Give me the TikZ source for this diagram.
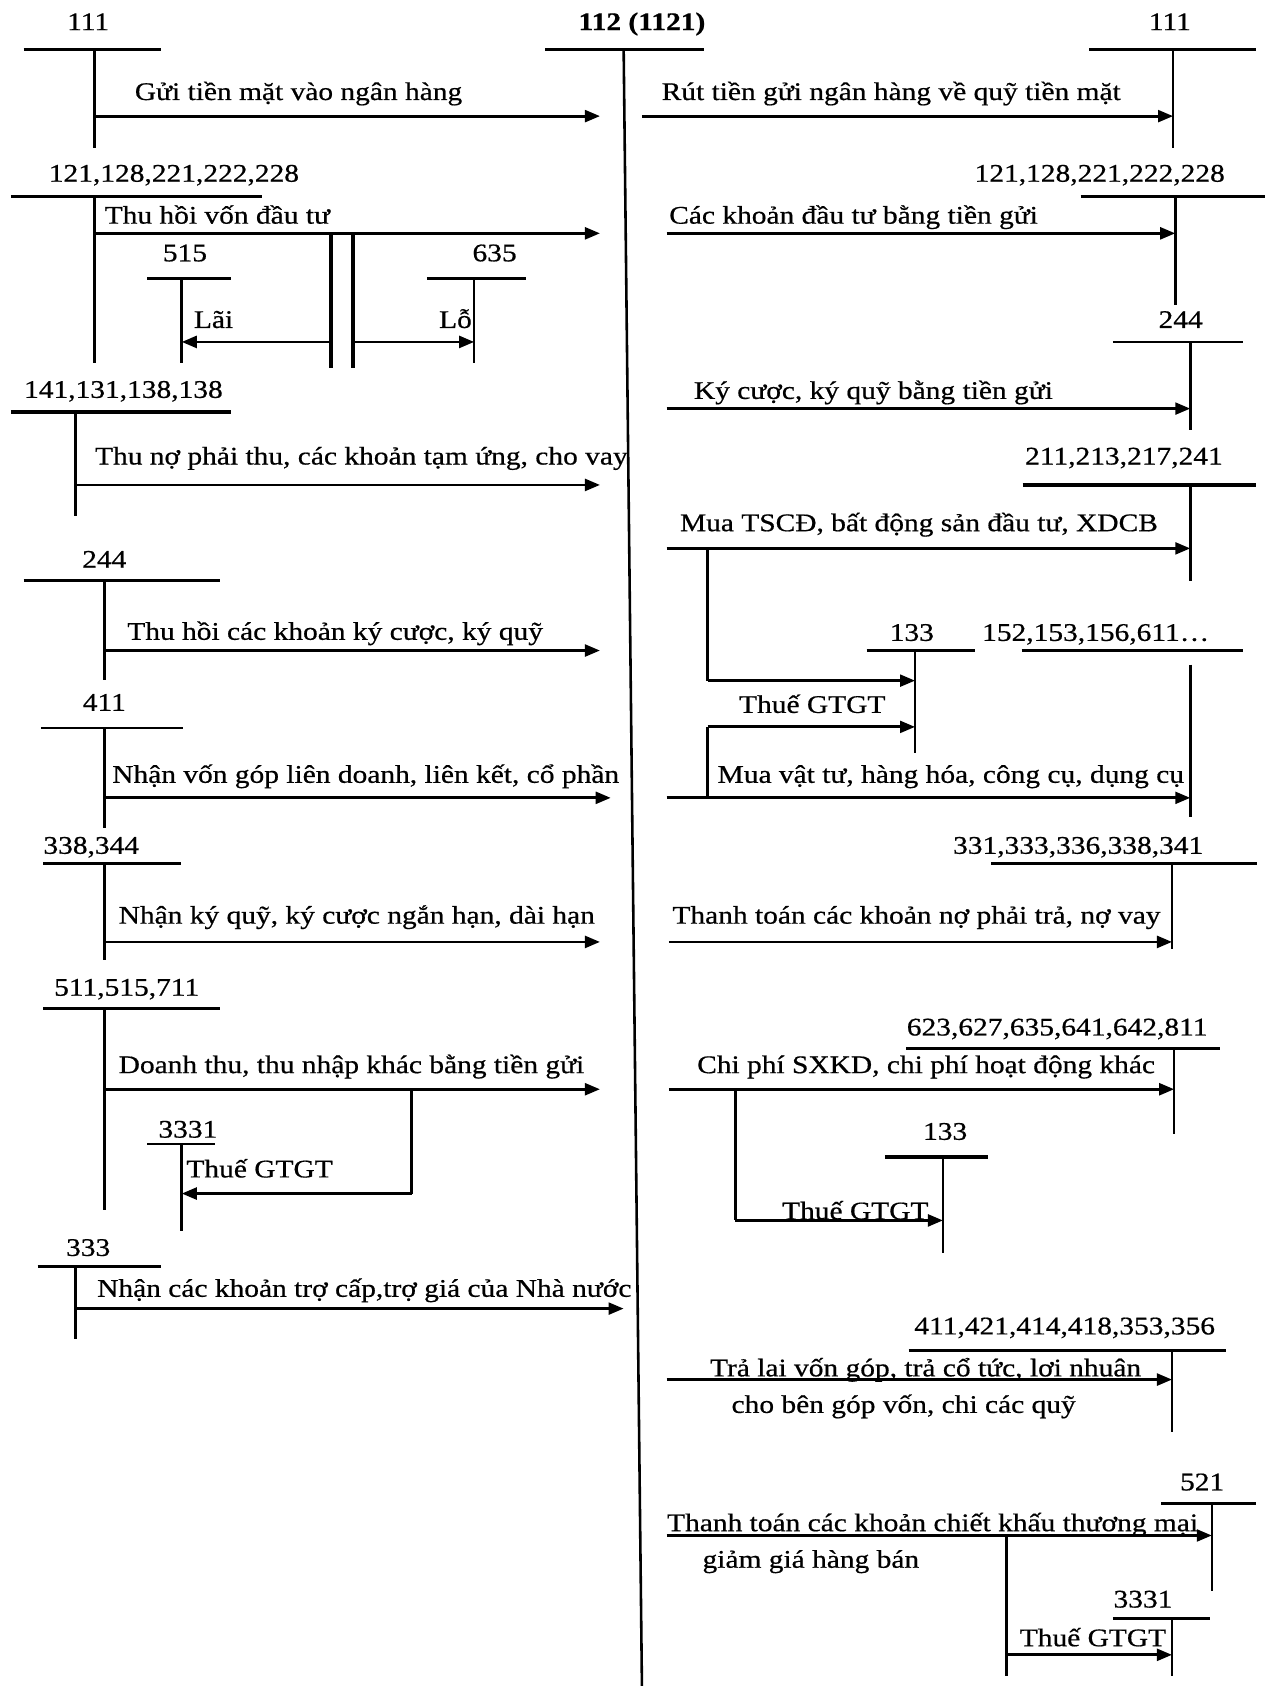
\documentclass[tikz,border=0pt]{standalone}
\usepackage{fontspec}
\setmainfont{Liberation Serif}[FakeStretch=1.16,FakeBold=0.6]
\usetikzlibrary{arrows.meta}
\begin{document}
\begin{tikzpicture}[x=0.5pt,y=-0.5pt,
  every node/.style={inner sep=0pt, font=\fontsize{11.8}{13}\selectfont},
  tline/.style={line width=1.6pt},
  vline/.style={line width=1.2pt},
  seg/.style={line width=1.3pt},
  arr/.style={line width=1.3pt,-{Triangle[length=7pt,width=5.5pt]}},
  txt/.style={anchor=base west},
  num/.style={anchor=base},
]
\useasboundingbox (0,0) rectangle (1181,1568);

% ===== main account 112 =====
\node[num,font=\fontsize{11.8}{13}\selectfont\bfseries] (Mlab) at (597,28) {112 (1121)};
\coordinate (Ml) at (507,46); \coordinate (Mr) at (655,46);
\coordinate (Mt) at (580,46); \coordinate (Mb) at (597,1568);
\draw[tline] (Ml) -- (Mr);
\draw[vline] (Mt) -- (Mb);

% ===== LEFT SIDE =====
% L1 111
\node[num] (L1lab) at (82,28) {111};
\coordinate (L1l) at (22,46); \coordinate (L1r) at (150,46);
\coordinate (L1t) at (88,46); \coordinate (L1b) at (88,138);
\draw[tline] (L1l) -- (L1r); \draw[vline] (L1t) -- (L1b);
\coordinate (L1s) at (88,108); \coordinate (L1e) at (558,108);
\draw[arr] (L1s) -- (L1e);
\node[txt] (L1txt) at (125,93) {Gửi tiền mặt vào ngân hàng};

% L2 121,...
\node[txt] (L2lab) at (45,169) {121,128,221,222,228};
\coordinate (L2l) at (10,183); \coordinate (L2r) at (244,183);
\coordinate (L2t) at (88,183); \coordinate (L2b) at (88,338);
\draw[tline] (L2l) -- (L2r); \draw[vline] (L2t) -- (L2b);
\coordinate (L2s) at (88,217); \coordinate (L2e) at (558,217);
\draw[arr] (L2s) -- (L2e);
\node[txt] (L2txt) at (97,208) {Thu hồi vốn đầu tư};
\coordinate (D1t) at (308,217); \coordinate (D1b) at (308,342);
\coordinate (D2t) at (328,217); \coordinate (D2b) at (328,342);
\draw[line width=1.7pt] (D1t) -- (D1b);
\draw[line width=1.7pt] (D2t) -- (D2b);
% 515
\node[num] (A515lab) at (172,243) {515};
\coordinate (A515l) at (137,259); \coordinate (A515r) at (215,259);
\coordinate (A515t) at (169,259); \coordinate (A515b) at (169,338);
\draw[vline] (A515l) -- (A515r); \draw[vline] (A515t) -- (A515b);
\coordinate (LaiS) at (308,318);
\draw[arr] (LaiS) -- (LaiS -| A515t);
\node[txt] (Lai) at (180,305) {Lãi};
% 635
\node[num] (A635lab) at (460,243) {635};
\coordinate (A635l) at (397,259); \coordinate (A635r) at (489,259);
\coordinate (A635t) at (441,259); \coordinate (A635b) at (441,338);
\draw[vline] (A635l) -- (A635r); \draw[vline] (A635t) -- (A635b);
\coordinate (LoS) at (328,318);
\draw[arr] (LoS) -- (LoS -| A635t);
\node[txt] (Lo) at (408,305) {Lỗ};

% L3 141,...
\node[txt] (L3lab) at (22,370) {141,131,138,138};
\coordinate (L3l) at (10,383); \coordinate (L3r) at (215,383);
\coordinate (L3t) at (70,383); \coordinate (L3b) at (70,480);
\draw[tline] (L3l) -- (L3r); \draw[vline] (L3t) -- (L3b);
\coordinate (L3s) at (70,451); \coordinate (L3e) at (558,451);
\draw[arr] (L3s) -- (L3e);
\node[txt] (L3txt) at (88,432) {Thu nợ phải thu, các khoản tạm ứng, cho vay};

% L4 244
\node[num] (L4lab) at (97,528) {244};
\coordinate (L4l) at (22,540); \coordinate (L4r) at (205,540);
\coordinate (L4t) at (97,540); \coordinate (L4b) at (97,632);
\draw[tline] (L4l) -- (L4r); \draw[vline] (L4t) -- (L4b);
\coordinate (L4s) at (97,605); \coordinate (L4e) at (558,605);
\draw[arr] (L4s) -- (L4e);
\node[txt] (L4txt) at (118,595) {Thu hồi các khoản ký cược, ký quỹ};

% L5 411
\node[num] (L5lab) at (97,661) {411};
\coordinate (L5l) at (38,677); \coordinate (L5r) at (170,677);
\coordinate (L5t) at (97,677); \coordinate (L5b) at (97,770);
\draw[vline] (L5l) -- (L5r); \draw[vline] (L5t) -- (L5b);
\coordinate (L5s) at (97,742); \coordinate (L5e) at (568,742);
\draw[arr] (L5s) -- (L5e);
\node[txt] (L5txt) at (104,728) {Nhận vốn góp liên doanh, liên kết, cổ phần};

% L6 338,344
\node[txt] (L6lab) at (40,794) {338,344};
\coordinate (L6l) at (40,803); \coordinate (L6r) at (168,803);
\coordinate (L6t) at (97,803); \coordinate (L6b) at (97,893);
\draw[vline] (L6l) -- (L6r); \draw[vline] (L6t) -- (L6b);
\coordinate (L6s) at (97,876); \coordinate (L6e) at (558,876);
\draw[arr] (L6s) -- (L6e);
\node[txt] (L6txt) at (110,859) {Nhận ký quỹ, ký cược ngắn hạn, dài hạn};

% L7 511,515,711
\node[txt] (L7lab) at (50,926) {511,515,711};
\coordinate (L7l) at (40,938); \coordinate (L7r) at (205,938);
\coordinate (L7t) at (97,938); \coordinate (L7b) at (97,1125);
\draw[tline] (L7l) -- (L7r); \draw[vline] (L7t) -- (L7b);
\coordinate (L7s) at (97,1013); \coordinate (L7e) at (558,1013);
\draw[arr] (L7s) -- (L7e);
\node[txt] (L7txt) at (110,998) {Doanh thu, thu nhập khác bằng tiền gửi};
% 3331
\node[txt] (A3331lab) at (147,1058) {3331};
\coordinate (A3331l) at (137,1064); \coordinate (A3331r) at (200,1064);
\coordinate (A3331t) at (169,1064); \coordinate (A3331b) at (169,1145);
\draw[vline] (A3331l) -- (A3331r); \draw[vline] (A3331t) -- (A3331b);
\coordinate (L7br) at (383,1013); \coordinate (L7bk) at (383,1110);
\draw[seg] (L7br) -- (L7bk);
\draw[arr] (L7bk) -- (L7bk -| A3331t);
\node[txt] (L7vat) at (173,1095) {Thuế GTGT};

% L8 333
\node[num] (L8lab) at (82,1168) {333};
\coordinate (L8l) at (35,1178); \coordinate (L8r) at (150,1178);
\coordinate (L8t) at (70,1178); \coordinate (L8b) at (70,1245);
\draw[tline] (L8l) -- (L8r); \draw[vline] (L8t) -- (L8b);
\coordinate (L8s) at (70,1217); \coordinate (L8e) at (580,1217);
\draw[arr] (L8s) -- (L8e);
\node[txt] (L8txt) at (90,1206) {Nhận các khoản trợ cấp,trợ giá của Nhà nước};

% ===== RIGHT SIDE =====
% R1 111
\node[num] (R1lab) at (1088,28) {111};
\coordinate (R1l) at (1013,46); \coordinate (R1r) at (1168,46);
\coordinate (R1t) at (1091,46); \coordinate (R1b) at (1091,138);
\draw[tline] (R1l) -- (R1r); \draw[vline] (R1t) -- (R1b);
\coordinate (R1s) at (597,108);
\draw[arr] (R1s) -- (R1s -| R1t);
\node[txt] (R1txt) at (615,93) {Rút tiền gửi ngân hàng về quỹ tiền mặt};

% R2 121,...
\node[txt] (R2lab) at (906,169) {121,128,221,222,228};
\coordinate (R2l) at (1005,183); \coordinate (R2r) at (1176,183);
\coordinate (R2t) at (1093,183); \coordinate (R2b) at (1093,284);
\draw[tline] (R2l) -- (R2r); \draw[vline] (R2t) -- (R2b);
\coordinate (R2s) at (620,217);
\draw[arr] (R2s) -- (R2s -| R2t);
\node[txt] (R2txt) at (622,208) {Các khoản đầu tư bằng tiền gửi};

% R3 244
\node[num] (R3lab) at (1098,305) {244};
\coordinate (R3l) at (1035,318); \coordinate (R3r) at (1156,318);
\coordinate (R3t) at (1107,318); \coordinate (R3b) at (1107,400);
\draw[vline] (R3l) -- (R3r); \draw[vline] (R3t) -- (R3b);
\coordinate (R3s) at (620,380);
\draw[arr] (R3s) -- (R3s -| R3t);
\node[txt] (R3txt) at (645,371) {Ký cược, ký quỹ bằng tiền gửi};

% R4 211,...
\node[txt] (R4lab) at (953,432) {211,213,217,241};
\coordinate (R4l) at (951,451); \coordinate (R4r) at (1168,451);
\coordinate (R4t) at (1107,451); \coordinate (R4b) at (1107,540);
\draw[tline] (R4l) -- (R4r); \draw[vline] (R4t) -- (R4b);
\coordinate (R4s) at (620,510);
\draw[arr] (R4s) -- (R4s -| R4t);
\node[txt] (R4txt) at (632,494) {Mua TSCĐ, bất động sản đầu tư, XDCB};
% 133 (upper)
\node[num] (B133lab) at (848,596) {133};
\coordinate (B133l) at (806,605); \coordinate (B133r) at (907,605);
\coordinate (B133t) at (851,605); \coordinate (B133b) at (851,700);
\draw[vline] (B133l) -- (B133r); \draw[vline] (B133t) -- (B133b);
% 152,...
\node[txt] (C152lab) at (913,596) {152,153,156,611…};
\coordinate (C152l) at (950,605); \coordinate (C152r) at (1156,605);
\coordinate (C152t) at (1107,618); \coordinate (C152b) at (1107,760);
\draw[vline] (C152l) -- (C152r); \draw[vline] (C152t) -- (C152b);
% branch from R4 arrow to 133
\coordinate (R4br) at (658,510); \coordinate (R4bk) at (658,633);
\draw[seg] (R4br) -- (R4bk);
\draw[arr] (R4bk) -- (R4bk -| B133t);
\node[txt] (R4vat) at (687,663) {Thuế GTGT};
% purchase of materials
\coordinate (R5s) at (620,742); \coordinate (R5br) at (658,742); \coordinate (R5bk) at (658,676);
\draw[arr] (R5s) -- (R5s -| C152t);
\draw[seg] (R5br) -- (R5bk);
\draw[arr] (R5bk) -- (R5bk -| B133t);
\node[txt] (R5txt) at (667,728) {Mua vật tư, hàng hóa, công cụ, dụng cụ};

% R6 331,...
\node[txt] (R6lab) at (886,794) {331,333,336,338,341};
\coordinate (R6l) at (922,803); \coordinate (R6r) at (1169,803);
\coordinate (R6t) at (1090,803); \coordinate (R6b) at (1090,883);
\draw[vline] (R6l) -- (R6r); \draw[vline] (R6t) -- (R6b);
\coordinate (R6s) at (622,876);
\draw[arr] (R6s) -- (R6s -| R6t);
\node[txt] (R6txt) at (625,859) {Thanh toán các khoản nợ phải trả, nợ vay};

% R7 623,...
\node[txt] (R7lab) at (843,963) {623,627,635,641,642,811};
\coordinate (R7l) at (843,975); \coordinate (R7r) at (1135,975);
\coordinate (R7t) at (1092,975); \coordinate (R7b) at (1092,1055);
\draw[vline] (R7l) -- (R7r); \draw[vline] (R7t) -- (R7b);
\coordinate (R7s) at (622,1013);
\draw[arr] (R7s) -- (R7s -| R7t);
\node[txt] (R7txt) at (648,998) {Chi phí SXKD, chi phí hoạt động khác};
% 133 (lower)
\node[num] (E133lab) at (879,1060) {133};
\coordinate (E133l) at (823,1076); \coordinate (E133r) at (919,1076);
\coordinate (E133t) at (877,1076); \coordinate (E133b) at (877,1165);
\draw[tline] (E133l) -- (E133r); \draw[vline] (E133t) -- (E133b);
\coordinate (R7br) at (684,1013); \coordinate (R7bk) at (684,1135);
\draw[seg] (R7br) -- (R7bk);
\draw[arr] (R7bk) -- (R7bk -| E133t);
\node[txt] (R7vat) at (727,1134) {Thuế GTGT};

% R8 411,...
\node[txt] (R8lab) at (850,1241) {411,421,414,418,353,356};
\coordinate (R8l) at (845,1256); \coordinate (R8r) at (1140,1256);
\coordinate (R8t) at (1090,1256); \coordinate (R8b) at (1090,1332);
\draw[vline] (R8l) -- (R8r); \draw[vline] (R8t) -- (R8b);
\coordinate (R8s) at (620,1283);
\node[txt] (R8txt) at (660,1280) {Trả lai vốn góp, trả cổ tức, lơi nhuân};
\node[txt] (R8txt2) at (680,1314) {cho bên góp vốn, chi các quỹ};
\draw[arr] (R8s) -- (R8s -| R8t);

% R9 521
\node[num] (R9lab) at (1118,1386) {521};
\coordinate (R9l) at (1080,1398); \coordinate (R9r) at (1168,1398);
\coordinate (R9t) at (1127,1398); \coordinate (R9b) at (1127,1480);
\draw[vline] (R9l) -- (R9r); \draw[vline] (R9t) -- (R9b);
\coordinate (R9s) at (620,1428);
\node[txt] (R9txt) at (620,1424) {Thanh toán các khoản chiết khấu thương mại};
\node[txt] (R9txt2) at (653,1458) {giảm giá hàng bán};
\draw[arr] (R9s) -- (R9s -| R9t);
% 3331 (right)
\node[num] (F3331lab) at (1063,1495) {3331};
\coordinate (F3331l) at (1035,1505); \coordinate (F3331r) at (1125,1505);
\coordinate (F3331t) at (1090,1505); \coordinate (F3331b) at (1090,1559);
\draw[vline] (F3331l) -- (F3331r); \draw[vline] (F3331t) -- (F3331b);
\coordinate (R9br) at (936,1428); \coordinate (R9bb) at (936,1559); \coordinate (R9bk) at (936,1539);
\draw[seg] (R9br) -- (R9bb);
\draw[arr] (R9bk) -- (R9bk -| F3331t);
\node[txt] (R9vat) at (948,1531) {Thuế GTGT};
\end{tikzpicture}
\end{document}
